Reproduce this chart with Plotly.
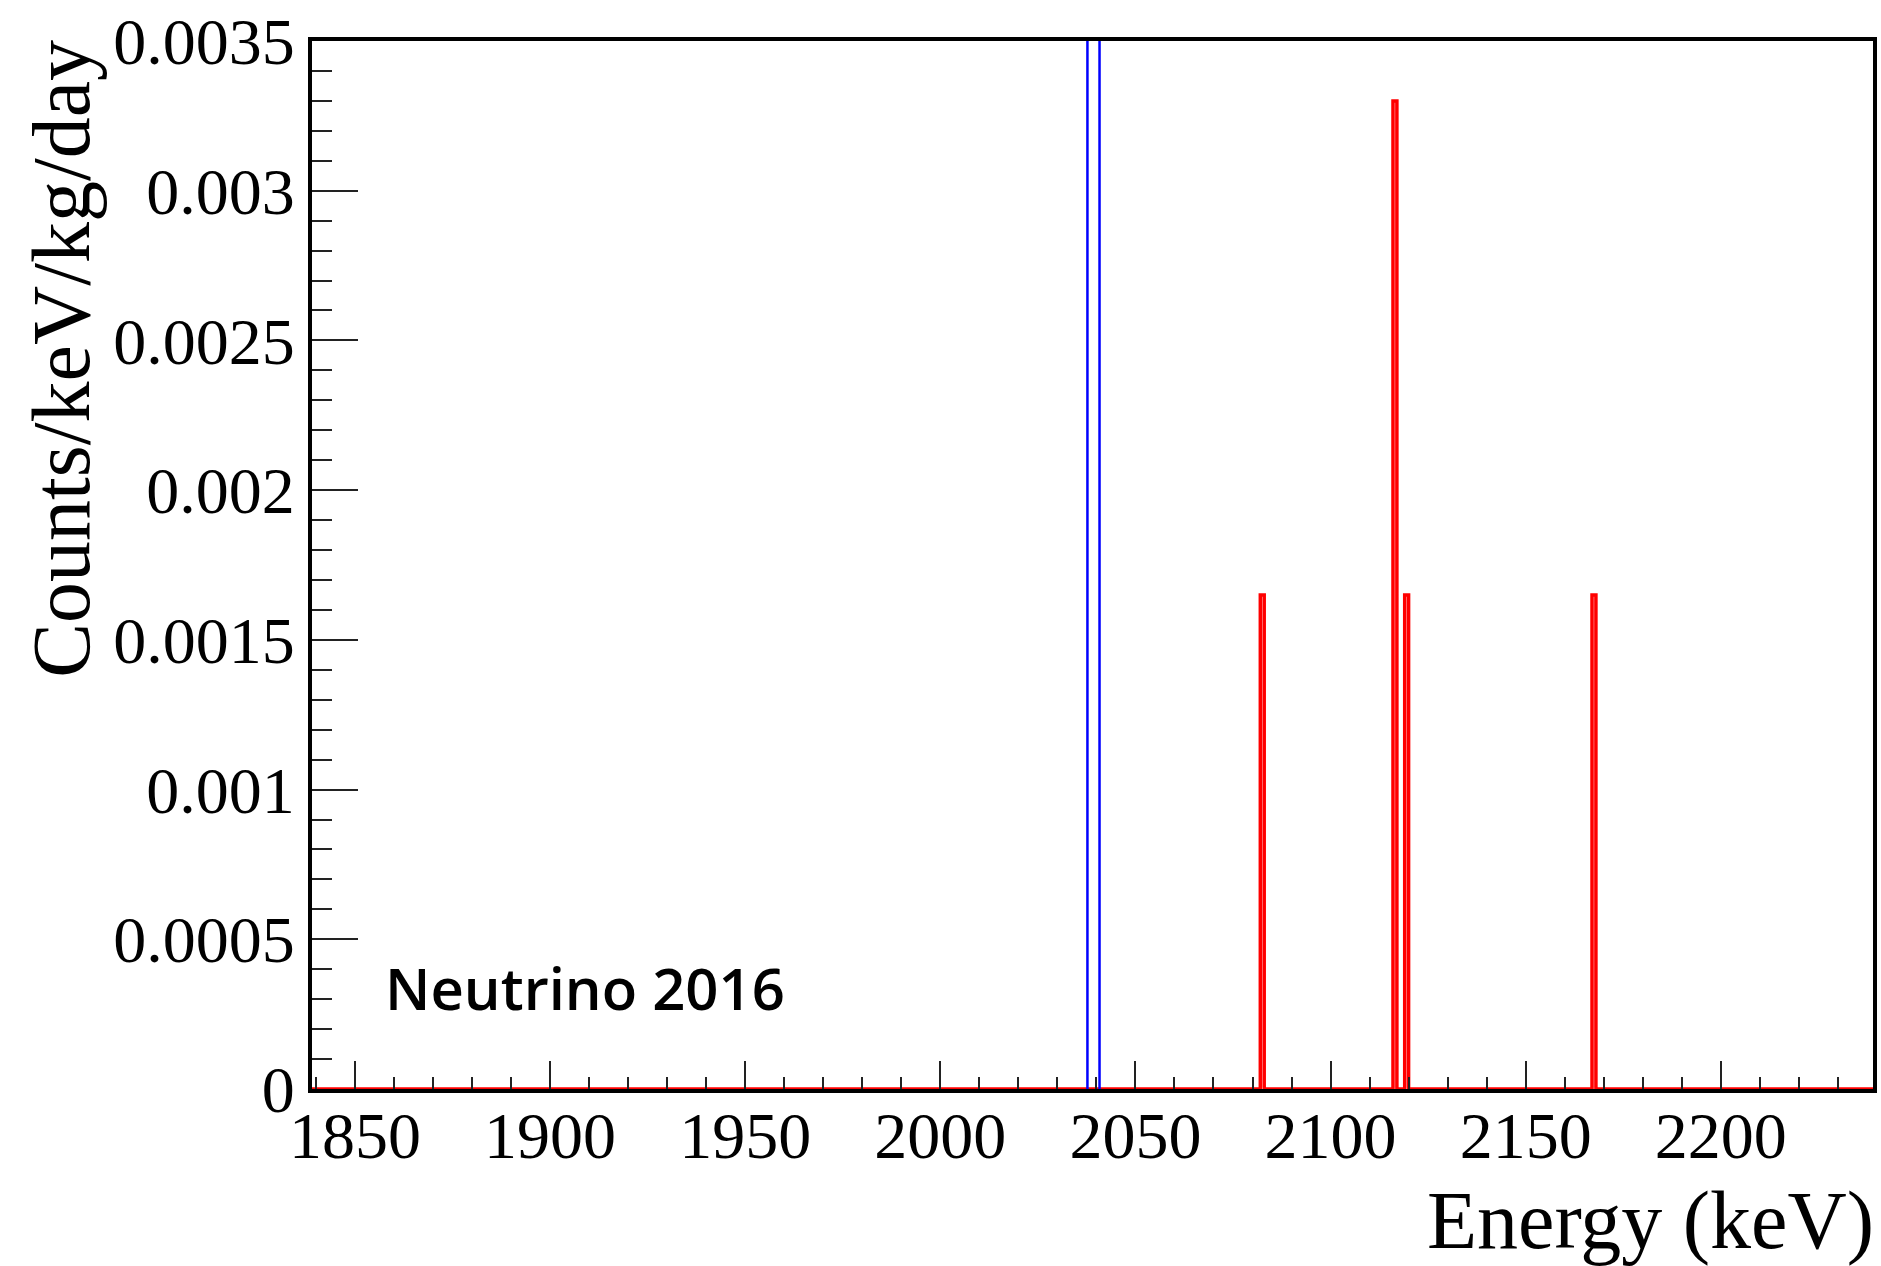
import plotly.graph_objects as go

# ---- data ----
bin_low = 1839          # first bin edge (keV)
bin_high = 2239         # last bin edge (keV)
bin_width = 1           # keV
peak_bins = [2082, 2116, 2119, 2167]                 # lower edges of non-empty bins
peak_values = [0.00165, 0.0033, 0.00165, 0.00165]    # counts/keV/kg/day
roi_lines = [2037.7, 2040.8]                         # blue window lines (keV)
y_max = 0.0035
y_tickvals = [0, 0.0005, 0.001, 0.0015, 0.002, 0.0025, 0.003, 0.0035]
y_ticktext = ["0", "0.0005", "0.001", "0.0015", "0.002", "0.0025", "0.003", "0.0035"]
x_tickvals = [1850, 1900, 1950, 2000, 2050, 2100, 2150, 2200]

# build histogram outline from the lists
n_bins = int((bin_high - bin_low) / bin_width)
edges = [bin_low + i * bin_width for i in range(n_bins + 1)]
vals = [0.0] * n_bins
for b, v in zip(peak_bins, peak_values):
    vals[int((b - bin_low) / bin_width)] = v
hist_y = vals + [vals[-1]]

W, H = 1881, 1266
L, R, T, B = 312, 4, 41, 177
pw = W - L - R
ph = H - T - B

def px_x(p):
    return (p - L) / pw

def px_y(p):
    return (H - B - p) / ph

serif = "Liberation Serif, Times New Roman, serif"

fig = go.Figure()
fig.add_trace(go.Scatter(x=edges, y=hist_y, mode="lines", line_shape="hv",
                         line=dict(color="#ff0000", width=3.5), showlegend=False,
                         hoverinfo="skip"))
for e in roi_lines:
    fig.add_trace(go.Scatter(x=[e, e], y=[0, y_max], mode="lines",
                             line=dict(color="#0000ff", width=2.5), showlegend=False,
                             hoverinfo="skip"))

fig.update_layout(
    width=W, height=H,
    margin=dict(l=L, r=R, t=T, b=B, pad=0),
    plot_bgcolor="white", paper_bgcolor="white",
    showlegend=False,
    xaxis=dict(range=[bin_low, bin_high], showgrid=False, zeroline=False,
               showline=True, linecolor="black", linewidth=4, mirror=True,
               ticks="inside", ticklen=28, tickwidth=2, tickcolor="#222",
               tickvals=x_tickvals, ticklabelstandoff=-14,
               tickfont=dict(family=serif, size=66, color="black"),
               minor=dict(ticks="inside", ticklen=12, tickwidth=2, tickcolor="#222",
                          dtick=10, tick0=1840, showgrid=False)),
    yaxis=dict(range=[0, y_max], showgrid=False, zeroline=False,
               showline=True, linecolor="black", linewidth=4, mirror=True,
               ticks="inside", ticklen=46, tickwidth=2, tickcolor="#222",
               tickvals=y_tickvals, ticktext=y_ticktext,
               tickfont=dict(family=serif, size=66, color="black"),
               minor=dict(ticks="inside", ticklen=20, tickwidth=2, tickcolor="#222",
                          dtick=0.0001, tick0=0, showgrid=False)),
    annotations=[
        dict(text="Counts/keV/kg/day", textangle=-90, xref="paper", yref="paper",
             x=px_x(60), y=px_y(38), xanchor="center", yanchor="top",
             showarrow=False, font=dict(family=serif, size=82, color="black")),
        dict(text="Energy (keV)", xref="paper", yref="paper",
             x=px_x(1880), y=px_y(1220), xanchor="right", yanchor="middle",
             showarrow=False, font=dict(family=serif, size=82, color="black")),
        dict(text="Neutrino 2016", xref="paper", yref="paper",
             x=px_x(383), y=px_y(987), xanchor="left", yanchor="middle",
             showarrow=False, font=dict(family="Open Sans, Lato, sans-serif", size=58,
                                        color="black", weight=600)),
    ],
)

fig.write_html("out.html")
